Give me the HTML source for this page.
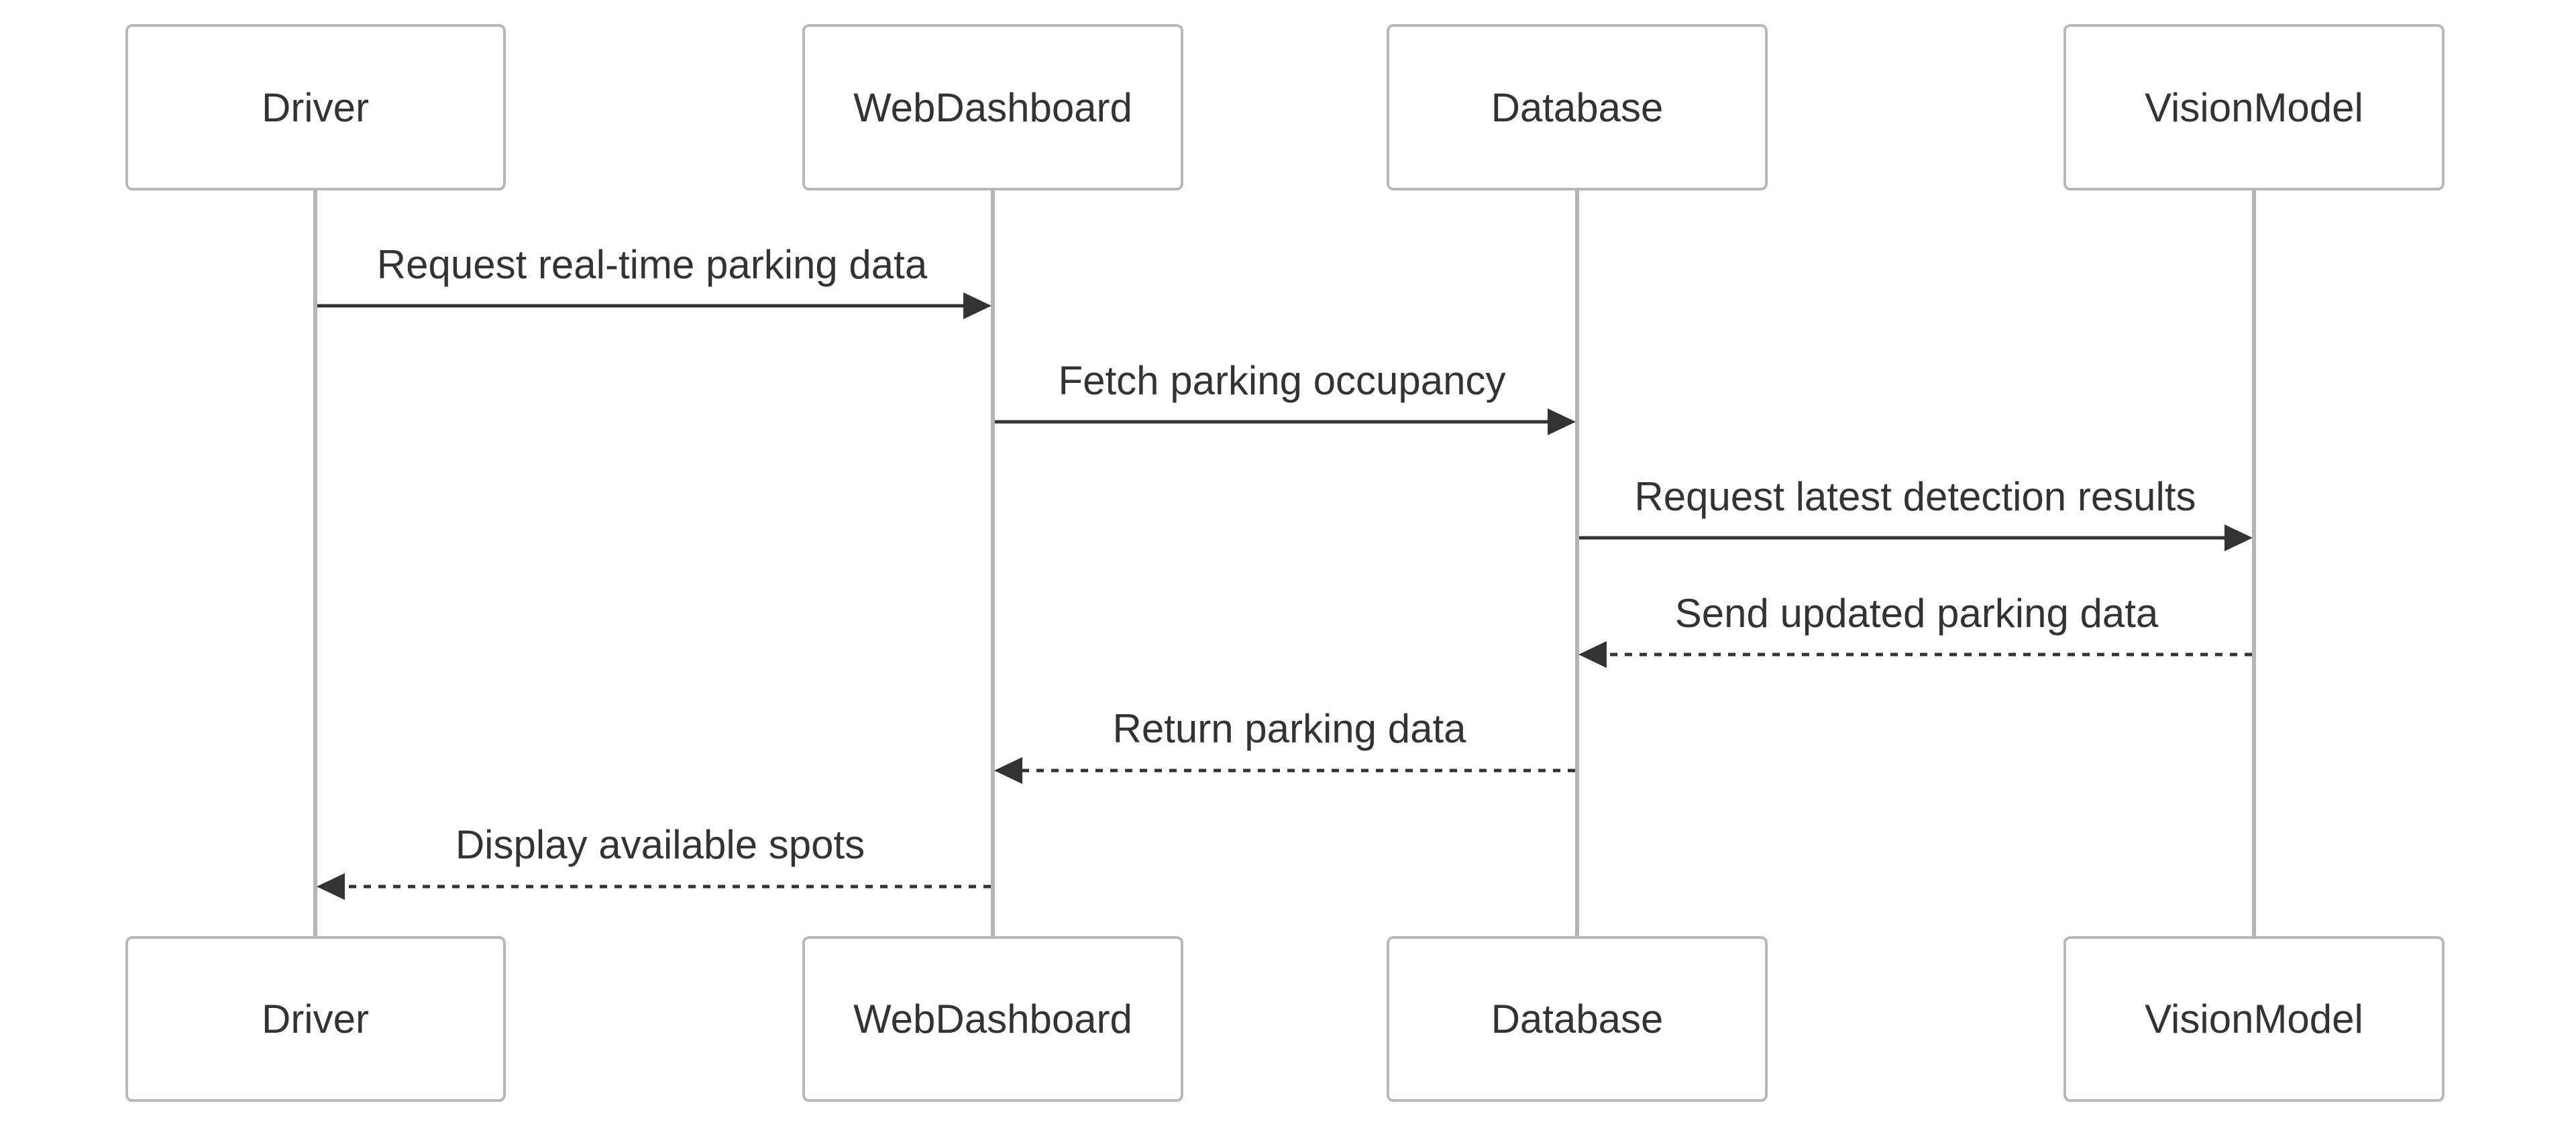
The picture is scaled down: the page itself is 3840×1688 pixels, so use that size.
<!DOCTYPE html>
<html><head><meta charset="utf-8"><style>
html,body{margin:0;padding:0;background:#fff;}
svg{display:block;}
text{font-family:"Liberation Sans",Arial,sans-serif;fill:#333;}
</style></head><body>
<svg width="3840" height="1688" viewBox="0 0 3840 1688" xmlns="http://www.w3.org/2000/svg">
<g stroke="#b5b5b5" stroke-width="6">
<line x1="470" y1="282" x2="470" y2="1398"/>
<line x1="1480" y1="282" x2="1480" y2="1398"/>
<line x1="2351" y1="282" x2="2351" y2="1398"/>
<line x1="3360" y1="282" x2="3360" y2="1398"/>
</g>
<g fill="#fff" stroke="#b8b8b8" stroke-width="4">
<rect x="189" y="38" width="563" height="244" rx="8"/>
<rect x="1198" y="38" width="564" height="244" rx="8"/>
<rect x="2069" y="38" width="564" height="244" rx="8"/>
<rect x="3078" y="38" width="564" height="244" rx="8"/>
<rect x="189" y="1398" width="563" height="243" rx="8"/>
<rect x="1198" y="1398" width="564" height="243" rx="8"/>
<rect x="2069" y="1398" width="564" height="243" rx="8"/>
<rect x="3078" y="1398" width="564" height="243" rx="8"/>
</g>
<g font-size="60" text-anchor="middle">
<text x="470" y="181">Driver</text>
<text x="1480" y="181">WebDashboard</text>
<text x="2351" y="181">Database</text>
<text x="3360" y="181">VisionModel</text>
<text x="470" y="1540">Driver</text>
<text x="1480" y="1540">WebDashboard</text>
<text x="2351" y="1540">Database</text>
<text x="3360" y="1540">VisionModel</text>
</g>
<g font-size="60" text-anchor="middle">
<text x="972" y="415">Request real-time parking data</text>
<text x="1911" y="588">Fetch parking occupancy</text>
<text x="2855" y="761">Request latest detection results</text>
<text x="2857" y="935">Send updated parking data</text>
<text x="1922" y="1107">Return parking data</text>
<text x="984" y="1280">Display available spots</text>
</g>
<g stroke="#333" stroke-width="5">
<line x1="473" y1="456" x2="1440" y2="456"/>
<line x1="1483" y1="629" x2="2311" y2="629"/>
<line x1="2354" y1="802" x2="3320" y2="802"/>
</g>
<g stroke="#333" stroke-width="5" stroke-dasharray="11 11">
<line x1="3357" y1="976" x2="2391" y2="976"/>
<line x1="2348" y1="1149" x2="1520" y2="1149"/>
<line x1="1477" y1="1322" x2="510" y2="1322"/>
</g>
<g fill="#333">
<polygon points="1478,456 1436,436 1436,476"/>
<polygon points="2349,629 2307,609 2307,649"/>
<polygon points="3358,802 3316,782 3316,822"/>
<polygon points="2353,976 2395,956 2395,996"/>
<polygon points="1482,1149 1524,1129 1524,1169"/>
<polygon points="472,1322 514,1302 514,1342"/>
</g>
</svg>
</body></html>
